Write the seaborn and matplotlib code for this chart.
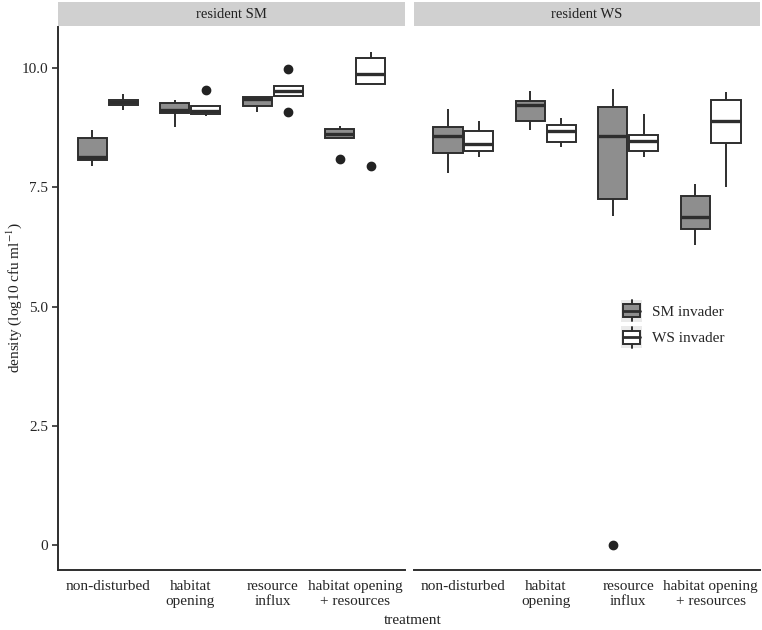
import numpy as np
import pandas as pd
import matplotlib
matplotlib.use("Agg")
from matplotlib import pyplot as plt
from matplotlib.patches import Patch, Rectangle
from matplotlib.lines import Line2D
from matplotlib.legend_handler import HandlerBase
import seaborn as sns

treatments = ["non-disturbed", "habitat\nopening", "resource\ninflux", "habitat opening\n+ resources"]
invaders = ["SM invader", "WS invader"]
residents = ["resident SM", "resident WS"]

# replicate densities (log10 cfu/ml)
# resident SM
rsm_nd_sm = [7.95, 8.07, 8.14, 8.53, 8.70]
rsm_nd_ws = [9.12, 9.22, 9.28, 9.33, 9.45]
rsm_ho_sm = [8.77, 9.05, 9.13, 9.26, 9.34]
rsm_ho_ws = [9.00, 9.02, 9.04, 9.07, 9.10, 9.15, 9.21, 9.21, 9.53]
rsm_ri_sm = [9.07, 9.21, 9.36, 9.39, 9.40]
rsm_ri_ws = [9.08, 9.42, 9.42, 9.47, 9.52, 9.58, 9.63, 9.63, 9.97]
rsm_hr_sm = [8.09, 8.54, 8.54, 8.57, 8.61, 8.67, 8.73, 8.76, 8.79]
rsm_hr_ws = [7.95, 9.66, 9.66, 9.75, 9.87, 10.05, 10.22, 10.28, 10.33]
# resident WS
rws_nd_sm = [7.81, 8.22, 8.58, 8.76, 9.14]
rws_nd_ws = [8.13, 8.27, 8.41, 8.69, 8.89]
rws_ho_sm = [8.71, 8.89, 9.22, 9.31, 9.52]
rws_ho_ws = [8.34, 8.46, 8.67, 8.81, 8.96]
rws_ri_sm = [0.0, 6.90, 7.25, 7.90, 8.57, 8.90, 9.18, 9.40, 9.56]
rws_ri_ws = [8.13, 8.27, 8.48, 8.60, 9.04]
rws_hr_sm = [6.29, 6.63, 6.87, 7.32, 7.56]
rws_hr_ws = [7.50, 8.43, 8.90, 9.32, 9.50]

groups = {
    "resident SM": [(rsm_nd_sm, rsm_nd_ws), (rsm_ho_sm, rsm_ho_ws),
                    (rsm_ri_sm, rsm_ri_ws), (rsm_hr_sm, rsm_hr_ws)],
    "resident WS": [(rws_nd_sm, rws_nd_ws), (rws_ho_sm, rws_ho_ws),
                    (rws_ri_sm, rws_ri_ws), (rws_hr_sm, rws_hr_ws)],
}

rows = []
for res, pairs in groups.items():
    for trt, pair in zip(treatments, pairs):
        for inv, vals in zip(invaders, pair):
            for v in vals:
                rows.append({"resident": res, "treatment": trt, "invader": inv, "density": v})
df = pd.DataFrame(rows)

sns.set_style("white")
plt.rcParams["font.family"] = ["Liberation Serif", "DejaVu Serif"]
plt.rcParams["mathtext.fontset"] = "stix"

W, H = 762, 630
fig = plt.figure(figsize=(W / 100, H / 100), dpi=100)

panels = [(58, 405), (414, 760)]
top, bottom = 27, 570
edge = "#2e2e2e"
gray = "#8e8e8e"

for i, (res, (x0, x1)) in enumerate(zip(residents, panels)):
    ax = fig.add_axes([x0 / W, 1 - bottom / H, (x1 - x0) / W, (bottom - top) / H])
    sns.boxplot(data=df[df.resident == res], x="treatment", y="density", hue="invader",
                order=treatments, hue_order=invaders,
                palette={"SM invader": gray, "WS invader": "white"},
                width=0.75, gap=0.06, linewidth=1.4, linecolor=edge, showcaps=False,
                medianprops=dict(linewidth=2.4, color=edge),
                flierprops=dict(marker="o", markersize=6, markerfacecolor="#222222",
                                markeredgecolor="#222222"),
                legend=False, ax=ax)
    ax.set_xlim(-0.6, 3.6)
    ax.set_ylim(-0.52, 10.86)
    ax.set_xlabel("")
    ax.set_ylabel("")
    for s in ["top", "right"]:
        ax.spines[s].set_visible(False)
    ax.spines["bottom"].set_color(edge)
    ax.spines["bottom"].set_linewidth(1.4)
    ax.tick_params(axis="x", length=4, width=1.2, color=edge, labelsize=11, pad=3)
    if i == 0:
        ax.spines["left"].set_color(edge)
        ax.spines["left"].set_linewidth(1.4)
        ax.set_yticks([0, 2.5, 5, 7.5, 10])
        ax.set_yticklabels(["0", "2.5", "5.0", "7.5", "10.0"])
        ax.tick_params(axis="y", length=4, width=1.2, color=edge, labelsize=11, pad=3, left=True)
    else:
        ax.spines["left"].set_visible(False)
        ax.set_yticks([])
    # facet strip
    sax = fig.add_axes([x0 / W, 1 - 26 / H, (x1 - x0) / W, 24 / H])
    sax.set_facecolor("#d0d0d0")
    for s in sax.spines.values():
        s.set_visible(False)
    sax.set_xticks([])
    sax.set_yticks([])
    sax.text(0.5, 0.5, res, ha="center", va="center", fontsize=10.5, color="#222222")

fig.text(14 / W, 1 - 298 / H, "density (log10 cfu ml$^{-1}$)", rotation=90,
         ha="center", va="center", fontsize=11, color="#222222")
fig.text(413 / W, 1 - 620 / H, "treatment", ha="center", va="center", fontsize=11,
         color="#222222")


class BoxKey(HandlerBase):
    # mini boxplot glyph on a light grey key tile, like ggplot's legend keys
    def create_artists(self, legend, orig_handle, xdescent, ydescent, width, height,
                       fontsize, trans):
        x0, y0 = -xdescent, -ydescent
        cx = x0 + width / 2
        bg = Rectangle((x0, y0), width, height, facecolor="#eaeaea",
                       edgecolor="none", transform=trans)
        bl, bh = y0 + height * 0.21, y0 + height * 0.79
        box = Rectangle((x0 + width * 0.1, bl), width * 0.8, bh - bl,
                        facecolor=orig_handle.get_facecolor(), edgecolor=edge,
                        linewidth=1.4, transform=trans)
        med = Line2D([x0 + width * 0.1, x0 + width * 0.9], [y0 + height / 2] * 2,
                     color=edge, linewidth=2.0, transform=trans)
        w1 = Line2D([cx, cx], [y0 + height * 0.04, bl], color=edge, linewidth=1.4,
                    transform=trans)
        w2 = Line2D([cx, cx], [bh, y0 + height * 0.96], color=edge, linewidth=1.4,
                    transform=trans)
        return [bg, box, med, w1, w2]


handles = [Patch(facecolor=gray, edgecolor=edge), Patch(facecolor="white", edgecolor=edge)]
fig.legend(handles, invaders, loc="center left", bbox_to_anchor=(618 / W, 1 - 324 / H),
           frameon=False, fontsize=11, handlelength=1.4, handleheight=1.85,
           handletextpad=0.6, labelspacing=0.3, borderpad=0.2, borderaxespad=0,
           handler_map={Patch: BoxKey()})

fig.savefig("out.png", dpi=100)
